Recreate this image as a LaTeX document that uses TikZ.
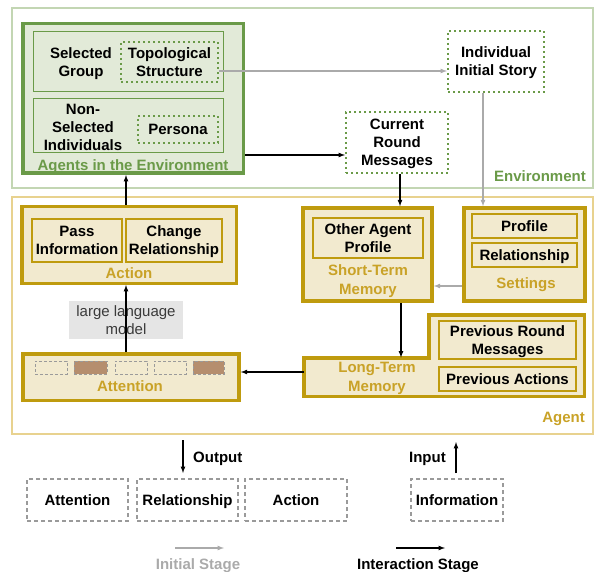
\documentclass[tikz,border=0pt]{standalone}
\usepackage{fontspec}
\setmainfont{Liberation Sans}
\usetikzlibrary{arrows}
\definecolor{envgreen}{HTML}{6A9A48}
\definecolor{envline}{HTML}{C3D6B3}
\definecolor{envfill}{HTML}{E2EAD8}
\definecolor{agtgold}{HTML}{BF9B0E}
\definecolor{agtlabel}{HTML}{C9A227}
\definecolor{agtline}{HTML}{E8D28F}
\definecolor{agtfill}{HTML}{F2EACF}
\definecolor{attbrown}{HTML}{B58E6E}
\definecolor{dashgray}{HTML}{9A9A9A}
\definecolor{initgray}{HTML}{AAAAAA}
\definecolor{llmgray}{HTML}{E5E5E5}
\definecolor{llmtext}{HTML}{3A3A3A}
\newcommand{\boldtext}{\bfseries\fontsize{15}{18}\selectfont}
\tikzset{
    box style outer/.style={draw,rectangle,inner sep=0pt,line width=1.5pt},
    box style env/.style={draw=envgreen,fill=envfill,line width=3.5pt,inner sep=0pt},
    box style sub env/.style={draw=envgreen,fill=envfill,line width=1.5pt,inner sep=0pt},
    box style dot/.style={draw=envgreen,line width=2pt,dash pattern=on 2pt off 3pt,inner sep=0pt,align=center,font=\boldtext,text depth=0pt},
    box style agt/.style={draw=agtgold,fill=agtfill,line width=3.5pt,inner sep=0pt},
    box style sub agt/.style={draw=agtgold,fill=agtfill,line width=1.5pt,inner sep=0pt,align=center,font=\boldtext,text depth=0pt},
    box style out/.style={draw=dashgray,line width=1.2pt,dash pattern=on 4pt off 3pt,inner sep=0pt,font=\boldtext,one line},
    box style slot/.style={draw=dashgray,line width=1pt,dash pattern=on 3pt off 2pt,inner sep=0pt,minimum width=32pt,minimum height=13pt},
    one line/.style={text height=10.8pt,text depth=0pt},
    text style plain/.style={align=center,inner sep=0pt,font=\boldtext,text depth=0pt},
    text style env/.style={text style plain,text=envgreen},
    text style agt/.style={align=center,inner sep=0pt,text=agtlabel,font=\bfseries\fontsize{15}{19}\selectfont,text depth=0pt},
    arrow style init/.style={draw=initgray,line width=1.2pt,->},
    arrow style inter/.style={draw=black,line width=1.2pt,->},
}

\begin{document}
\begin{tikzpicture}[x=1pt,y=-1pt,>=latex]
\useasboundingbox (0,0) rectangle (594,572);
% outer frames
\node [box style outer,draw=envline,minimum width=581pt,minimum height=180pt] (env) at (302.5,98) {};
\node [box style outer,draw=agtline,minimum width=581pt,minimum height=237pt] (agent) at (302.5,315.5) {};
\node [text style env,one line,anchor=east] (envlab) at (586,176) {Environment};
\node [text style agt,one line,anchor=east] (agentlab) at (585,417) {Agent};

% agents in the environment
\node [box style env,minimum width=220.5pt,minimum height=149.5pt] (agents) at (133,98.5) {};
\node [box style sub env,minimum width=190pt,minimum height=60pt] (selgrp) at (128.5,61.5) {};
\node [text style plain] (selgrptxt) at (81,62) {Selected\\Group};
\node [box style dot,minimum width=97pt,minimum height=40pt] (topo) at (169.5,62) {Topological\\Structure};
\node [box style sub env,minimum width=190pt,minimum height=54pt] (nonsel) at (128.5,125.5) {};
\node [text style plain] (nonseltxt) at (83,127) {Non-\\Selected\\Individuals};
\node [box style dot,one line,minimum width=80pt,minimum height=27pt] (persona) at (178,129.5) {Persona};
\node [text style env,one line] (agentslab) at (133,165) {Agents in the Environment};

% messages of the environment
\node [box style dot,minimum width=96pt,minimum height=61pt] (story) at (496,61.5) {Individual\\Initial Story};
\node [box style dot,minimum width=102pt,minimum height=61pt] (curmsg) at (397,142.5) {Current\\Round\\Messages};

% action
\node [box style agt,minimum width=214.5pt,minimum height=76.5pt] (action) at (129,245) {};
\node [box style sub agt,minimum width=90pt,minimum height=43pt] (passinfo) at (77,240.5) {Pass\\Information};
\node [box style sub agt,minimum width=96pt,minimum height=43pt] (chgrel) at (174,240.5) {Change\\Relationship};
\node [text style agt,one line] (actionlab) at (129,273) {Action};

% attention
\node [box style agt,minimum width=216pt,minimum height=46.5pt] (attn) at (131,377) {};
\node [box style slot] (slota) at (51,367.5) {};
\node [box style slot,fill=attbrown,minimum width=33pt] (slotb) at (90.5,367.5) {};
\node [box style slot] (slotc) at (131,367.5) {};
\node [box style slot] (slotd) at (170,367.5) {};
\node [box style slot,fill=attbrown,minimum width=31pt] (slote) at (208.5,367.5) {};
\node [text style agt,one line] (attnlab) at (130,386) {Attention};

% model
\node [fill=llmgray,inner sep=0pt,minimum width=114pt,minimum height=38pt,align=center,text=llmtext,font=\fontsize{15}{17.5}\selectfont] (llm) at (126,320) {large language\\model};

% short-term memory
\node [box style agt,minimum width=129pt,minimum height=93pt] (stm) at (367.5,254.5) {};
\node [box style sub agt,minimum width=110pt,minimum height=40pt] (oap) at (368,238) {Other Agent\\Profile};
\node [text style agt] (stmlab) at (368,279.5) {Short-Term\\Memory};

% settings
\node [box style agt,minimum width=121pt,minimum height=93pt] (settings) at (524.5,254.5) {};
\node [box style sub agt,one line,minimum width=105pt,minimum height=24pt] (profile) at (524.5,226) {Profile};
\node [box style sub agt,one line,minimum width=105pt,minimum height=24pt] (rel) at (524.5,255) {Relationship};
\node [text style agt,one line] (settingslab) at (526,283) {Settings};

% long-term memory
\draw [box style agt] (303.75,357.75) -- (428.75,357.75) -- (428.75,314.75) -- (584.25,314.75)
      -- (584.25,396.25) -- (303.75,396.25) -- cycle;
\node [inner sep=0pt,minimum width=280.5pt,minimum height=38.5pt] (ltm) at (444,377) {};
\node [box style sub agt,minimum width=137pt,minimum height=38pt] (prevmsg) at (507.5,340) {Previous Round\\Messages};
\node [box style sub agt,one line,minimum width=137pt,minimum height=24pt] (prevact) at (507.5,379) {Previous Actions};
\node [text style agt] (ltmlab) at (377,376.5) {Long-Term\\Memory};

% outputs and input
\node [box style out,minimum width=101pt,minimum height=42pt] (outattn) at (77.5,500) {Attention};
\node [box style out,minimum width=101pt,minimum height=42pt] (outrel) at (187.5,500) {Relationship};
\node [box style out,minimum width=102pt,minimum height=42pt] (outact) at (296,500) {Action};
\node [box style out,minimum width=92pt,minimum height=42pt] (ininfo) at (457,500) {Information};
\coordinate (outfrom) at (183,440);
\coordinate (outto) at (183,473);
\coordinate (infrom) at (456,473);
\coordinate (into) at (456,442);
\node [text style plain,one line,anchor=west] (outlab) at (193,457) {Output};
\node [text style plain,one line,anchor=east] (inlab) at (446,457) {Input};

% legend
\coordinate (initfrom) at (175,548);
\coordinate (initto) at (224,548);
\coordinate (interfrom) at (396,548);
\coordinate (interto) at (445,548);
\node [text style plain,one line,text=initgray] (initlab) at (198,564) {Initial Stage};
\node [text style plain,one line] (interlab) at (418,564) {Interaction Stage};

% arrows of the initial stage
\draw [arrow style init] (topo.east |- 0,71) -- (story.west |- 0,71);
\draw [arrow style init] (story.south -| 483,0) -- (settings.north -| 483,0);
\draw [arrow style init] (settings.west |- 0,286) -- (stm.east |- 0,286);
\draw [arrow style init] (initfrom) -- (initto);

% arrows of the interaction stage
\draw [arrow style inter] (agents.east |- 0,155) -- (curmsg.west |- 0,155);
\draw [arrow style inter] (curmsg.south -| 400,0) -- (stm.north -| 400,0);
\draw [arrow style inter] (stm.south -| 401,0) -- (ltm.north -| 401,0);
\draw [arrow style inter] ([yshift=5pt]ltm.west) -- ([yshift=5pt]attn.east);
\draw [arrow style inter] (attn.north -| 126,0) -- (action.south -| 126,0);
\draw [arrow style inter] (action.north -| 126,0) -- (agents.south -| 126,0);
\draw [arrow style inter] (outfrom) -- (outto);
\draw [arrow style inter] (infrom) -- (into);
\draw [arrow style inter] (interfrom) -- (interto);

\end{tikzpicture}
\end{document}
